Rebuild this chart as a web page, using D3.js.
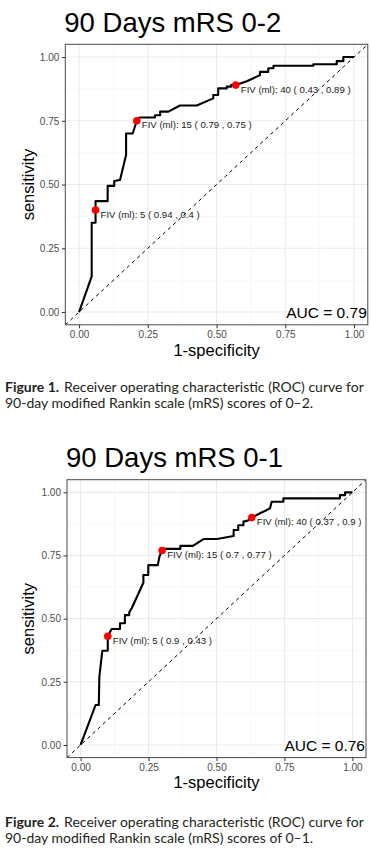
<!DOCTYPE html>
<html><head><meta charset="utf-8">
<script src="https://cdn.jsdelivr.net/npm/d3@7"></script>
<style>body{margin:0;background:#fff}svg{display:block}</style>
</head><body>
<svg id="c" width="371" height="850"></svg>
<script>
// ---- data ----
const tickValues = [0, 0.25, 0.5, 0.75, 1];
const tickLabels = ["0.00", "0.25", "0.50", "0.75", "1.00"];

const titles = ["90 Days mRS 0-2", "90 Days mRS 0-1"];
const aucLabels = ["AUC = 0.79", "AUC = 0.76"];

// chart 1 ROC curve (1-specificity, sensitivity)
const roc1FPR = [0, 0.046, 0.046, 0.06, 0.06, 0.104, 0.104, 0.128, 0.128, 0.149, 0.171, 0.171, 0.195, 0.21, 0.22, 0.276, 0.276, 0.295, 0.295, 0.325, 0.367, 0.428, 0.488, 0.488, 0.506, 0.506, 0.537, 0.537, 0.553, 0.553, 0.57, 0.61, 0.658, 0.658, 0.688, 0.688, 0.707, 0.707, 0.852, 0.852, 0.937, 0.937, 0.961, 0.961, 1];
const roc1TPR = [0, 0.14, 0.35, 0.35, 0.435, 0.435, 0.495, 0.495, 0.514, 0.518, 0.616, 0.70, 0.70, 0.75, 0.763, 0.763, 0.772, 0.772, 0.786, 0.786, 0.81, 0.81, 0.838, 0.851, 0.851, 0.877, 0.877, 0.884, 0.884, 0.89, 0.89, 0.905, 0.929, 0.942, 0.942, 0.956, 0.956, 0.966, 0.966, 0.972, 0.972, 0.984, 0.984, 1, 1];
const cut1Labels = ["FIV (ml): 5 ( 0.94 , 0.4 )", "FIV (ml): 15 ( 0.79 , 0.75 )", "FIV (ml): 40 ( 0.43 , 0.89 )"];
const cut1FPR = [0.06, 0.21, 0.57];
const cut1TPR = [0.4, 0.75, 0.89];

// chart 2 ROC curve
const roc2FPR = [0, 0.055, 0.067, 0.069, 0.08, 0.1, 0.1, 0.114, 0.145, 0.145, 0.163, 0.163, 0.179, 0.179, 0.188, 0.231, 0.231, 0.249, 0.249, 0.284, 0.29, 0.3, 0.305, 0.367, 0.367, 0.413, 0.452, 0.502, 0.563, 0.563, 0.58, 0.58, 0.599, 0.599, 0.615, 0.63, 0.66, 0.678, 0.697, 0.703, 0.746, 0.746, 0.954, 0.954, 0.973, 0.973, 1];
const roc2TPR = [0, 0.158, 0.158, 0.27, 0.373, 0.373, 0.43, 0.459, 0.459, 0.482, 0.482, 0.514, 0.514, 0.525, 0.541, 0.642, 0.673, 0.673, 0.712, 0.712, 0.745, 0.77, 0.776, 0.776, 0.788, 0.788, 0.815, 0.815, 0.827, 0.851, 0.851, 0.87, 0.87, 0.884, 0.888, 0.9, 0.917, 0.926, 0.937, 0.963, 0.963, 0.976, 0.976, 0.989, 0.989, 1, 1];
const cut2Labels = ["FIV (ml): 5 ( 0.9 , 0.43 )", "FIV (ml): 15 ( 0.7 , 0.77 )", "FIV (ml): 40 ( 0.37 , 0.9 )"];
const cut2FPR = [0.1, 0.3, 0.63];
const cut2TPR = [0.43, 0.77, 0.9];

const captionBold = ["Figure 1.", "Figure 2."];
const captionLine1 = "Receiver operating characteristic (ROC) curve for";
const captionLine2 = ["90-day modified Rankin scale (mRS) scores of 0\u20132.", "90-day modified Rankin scale (mRS) scores of 0\u20131."];

// ---- drawing ----
const svg = d3.select("#c");
const FONT = "'Liberation Sans', Arial, sans-serif";
const CAPFONT = "Lato, 'Open Sans', sans-serif";

function drawROC(idx, box, fpr, tpr, cutF, cutT, cutL, ly) {
  const g = svg.append("g");
  const x = d3.scaleLinear().domain([-0.05, 1.05]).range([box.left, box.right]);
  const y = d3.scaleLinear().domain([-0.05, 1.05]).range([box.bottom, box.top]);
  const clipId = "clip" + idx;
  svg.append("clipPath").attr("id", clipId).append("rect")
    .attr("x", box.left).attr("y", box.top)
    .attr("width", box.right - box.left).attr("height", box.bottom - box.top);

  // title
  g.append("text").attr("x", box.left - 1).attr("y", ly.title)
    .attr("font-family", FONT).attr("font-size", 27.5).attr("fill", "#000")
    .text(titles[idx]);

  // grid
  const minor = [0.125, 0.375, 0.625, 0.875];
  const grid = g.append("g");
  minor.forEach(v => {
    grid.append("line").attr("x1", x(v)).attr("x2", x(v)).attr("y1", box.top).attr("y2", box.bottom)
      .attr("stroke", "#f4f4f4").attr("stroke-width", 0.6);
    grid.append("line").attr("y1", y(v)).attr("y2", y(v)).attr("x1", box.left).attr("x2", box.right)
      .attr("stroke", "#f4f4f4").attr("stroke-width", 0.6);
  });
  tickValues.forEach(v => {
    grid.append("line").attr("x1", x(v)).attr("x2", x(v)).attr("y1", box.top).attr("y2", box.bottom)
      .attr("stroke", "#ebebeb").attr("stroke-width", 1.1);
    grid.append("line").attr("y1", y(v)).attr("y2", y(v)).attr("x1", box.left).attr("x2", box.right)
      .attr("stroke", "#ebebeb").attr("stroke-width", 1.1);
  });

  // diagonal reference
  g.append("line").attr("clip-path", `url(#${clipId})`)
    .attr("x1", x(-0.05)).attr("y1", y(-0.05)).attr("x2", x(1.05)).attr("y2", y(1.05))
    .attr("stroke", "#000").attr("stroke-width", 1).attr("stroke-dasharray", "3.5,3.5");

  // ROC curve
  const pts = fpr.map((f, i) => [f, tpr[i]]);
  g.append("path").datum(pts)
    .attr("d", d3.line().x(d => x(d[0])).y(d => y(d[1])))
    .attr("fill", "none").attr("stroke", "#000").attr("stroke-width", 2.1)
    .attr("stroke-linejoin", "round");

  // cut points
  cutF.forEach((f, i) => {
    g.append("circle").attr("cx", x(f)).attr("cy", y(cutT[i])).attr("r", 3.8).attr("fill", "#ff0000");
    g.append("text").attr("x", x(f) + 5).attr("y", y(cutT[i]) + 5)
      .attr("dominant-baseline", "middle")
      .attr("font-family", FONT).attr("font-size", 9.6).attr("fill", "#1a1a1a")
      .text(cutL[i]);
  });

  // AUC
  g.append("text").attr("x", box.right - 1).attr("y", ly.auc).attr("text-anchor", "end")
    .attr("font-family", FONT).attr("font-size", 15.5).attr("fill", "#000")
    .text(aucLabels[idx]);

  // border
  g.append("rect").attr("x", box.left).attr("y", box.top)
    .attr("width", box.right - box.left).attr("height", box.bottom - box.top)
    .attr("fill", "none").attr("stroke", "#4a4a4a").attr("stroke-width", 1);

  // axes
  const fmt = (d) => tickLabels[tickValues.indexOf(d)];
  const ax = g.append("g").attr("transform", `translate(0,${box.bottom})`)
    .call(d3.axisBottom(x).tickValues(tickValues).tickFormat(fmt).tickSize(3.5).tickPadding(2.5));
  const ay = g.append("g").attr("transform", `translate(${box.left},0)`)
    .call(d3.axisLeft(y).tickValues(tickValues).tickFormat(fmt).tickSize(3.5).tickPadding(2.5));
  [ax, ay].forEach(a => {
    a.select(".domain").remove();
    a.selectAll(".tick line").attr("stroke", "#333");
    a.selectAll(".tick text").attr("fill", "#4d4d4d").attr("font-family", FONT).attr("font-size", 10);
  });

  // axis titles
  g.append("text").attr("x", (x(0) + x(1)) / 2).attr("y", ly.xlab).attr("text-anchor", "middle")
    .attr("font-family", FONT).attr("font-size", 16.5).attr("fill", "#000").text("1-specificity");
  g.append("text").attr("transform", `translate(33.5,${(y(0) + y(1)) / 2}) rotate(-90)`)
    .attr("text-anchor", "middle")
    .attr("font-family", FONT).attr("font-size", 16.5).attr("fill", "#000").text("sensitivity");

  // caption
  const c1 = g.append("text").attr("x", 5).attr("y", ly.cap1)
    .attr("font-family", CAPFONT).attr("font-size", 14).attr("fill", "#231f20");
  c1.append("tspan").attr("font-weight", "bold").text(captionBold[idx]);
  c1.append("tspan").attr("dx", 5).text(captionLine1);
  g.append("text").attr("x", 5).attr("y", ly.cap2)
    .attr("font-family", CAPFONT).attr("font-size", 14).attr("fill", "#231f20")
    .text(captionLine2[idx]);
}

drawROC(0, {left: 65.3, right: 367.8, top: 44.3, bottom: 324.8},
  roc1FPR, roc1TPR, cut1FPR, cut1TPR, cut1Labels,
  {title: 32, auc: 318, xlab: 356, cap1: 392, cap2: 408});
drawROC(1, {left: 67, right: 366, top: 479.7, bottom: 757.6},
  roc2FPR, roc2TPR, cut2FPR, cut2TPR, cut2Labels,
  {title: 467, auc: 751, xlab: 788, cap1: 827, cap2: 843});
</script>
</body></html>
